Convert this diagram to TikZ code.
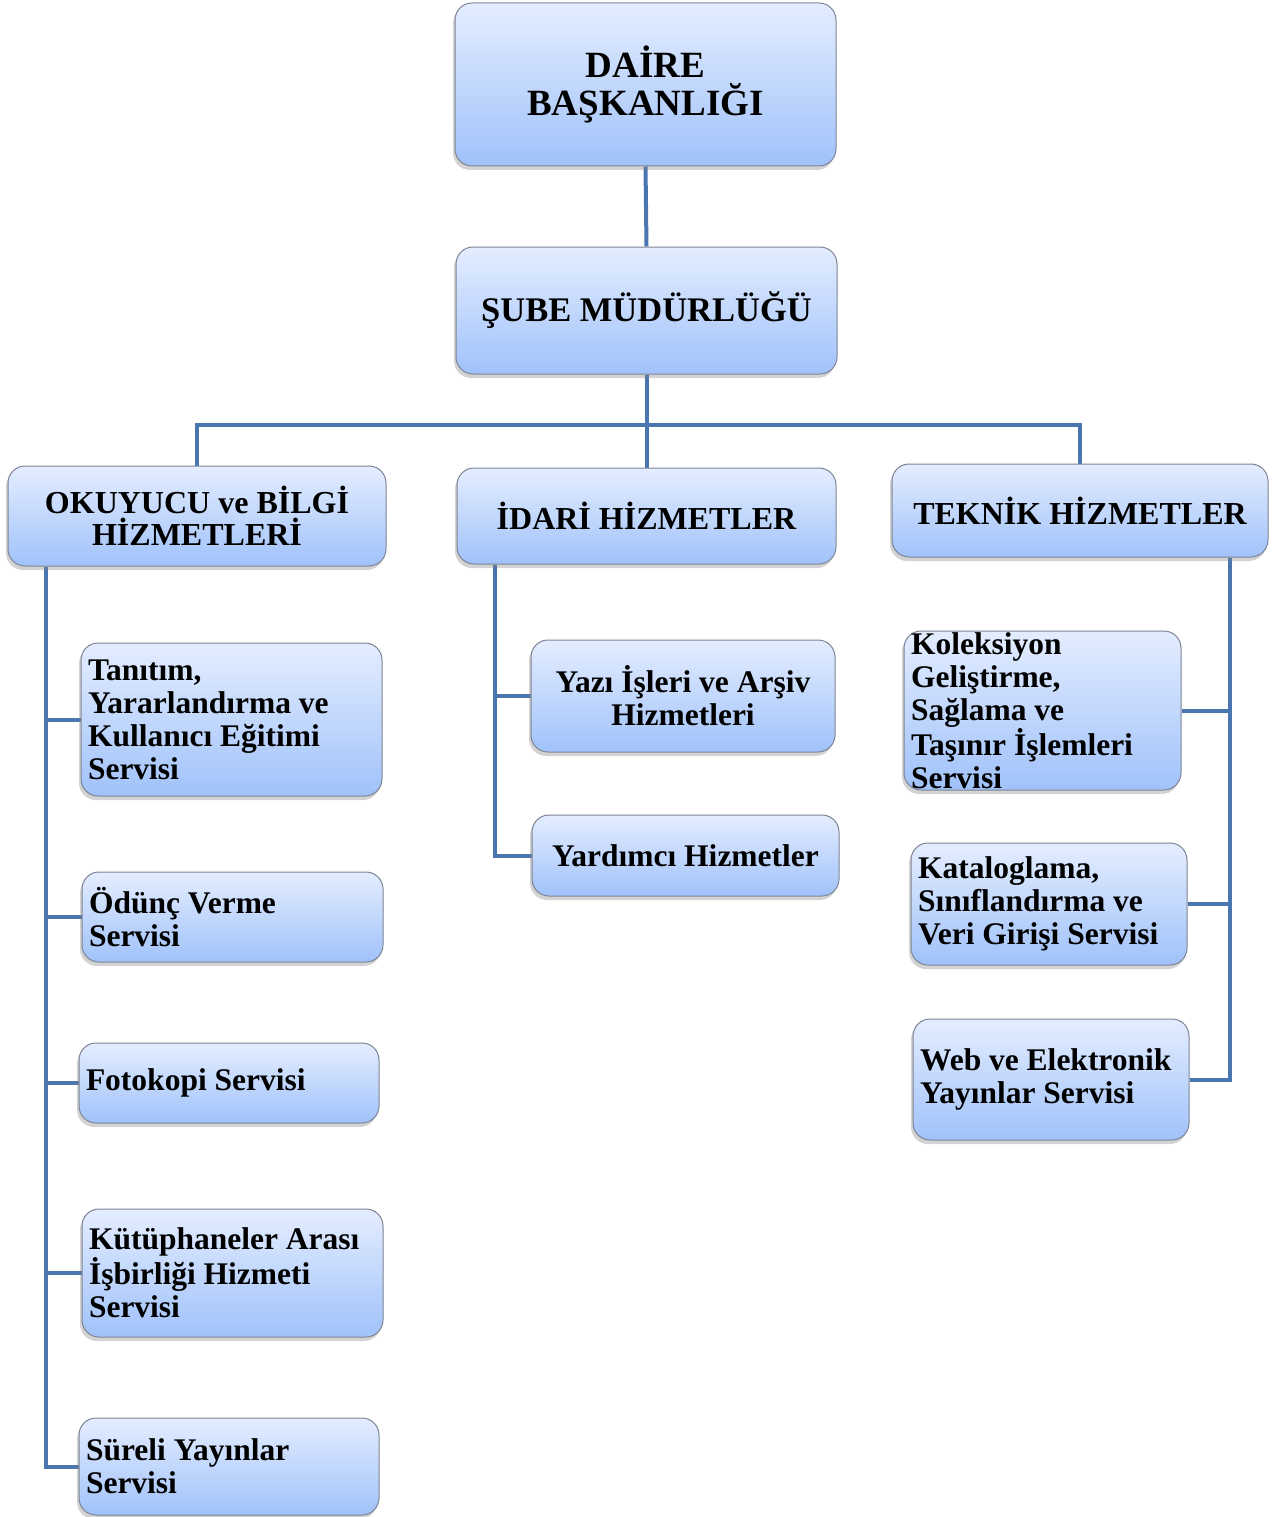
\documentclass[tikz,border=0pt]{standalone}
\usepackage{fontspec}
\setmainfont{Liberation Serif}
\usetikzlibrary{shadows,backgrounds}
\definecolor{boxtop}{RGB}{228,237,255}
\definecolor{boxbot}{RGB}{160,194,250}
\definecolor{boxborder}{RGB}{125,132,148}
\definecolor{connc}{RGB}{74,118,176}
\tikzset{
  orgbox/.style={draw=boxborder, line width=1pt, rounded corners=17pt,
    top color=boxtop, bottom color=boxbot,
    drop shadow={opacity=0.35, shadow xshift=-2pt, shadow yshift=-4pt},
    inner xsep=7pt, inner ysep=0pt, align=center,
    font=\bfseries\fontsize{31.5}{33}\selectfont},
  headbox/.style={orgbox, font=\bfseries\fontsize{32}{32}\selectfont},
  leftbox/.style={orgbox, align=flush left},
  conn/.style={draw=connc, line width=4pt},
}
\begin{document}
\begin{tikzpicture}[x=1pt,y=-1pt]
\useasboundingbox (0,0) rectangle (1273,1517);
% top
\node[orgbox, minimum width=381pt, minimum height=163pt, font=\bfseries\fontsize{37}{38}\selectfont] (daire) at (645.5,84.5) {DAİRE\\BAŞKANLIĞI};
\node[orgbox, minimum width=381pt, minimum height=127pt, font=\bfseries\fontsize{34.5}{36}\selectfont] (sube) at (646.5,310.5) {ŞUBE MÜDÜRLÜĞÜ};
% departments
\node[headbox, minimum width=378pt, minimum height=100pt] (okuyucu) at (197,516) {OKUYUCU ve BİLGİ\\HİZMETLERİ};
\node[headbox, minimum width=379pt, minimum height=96pt] (idari) at (646.5,516) {İDARİ HİZMETLER};
\node[headbox, minimum width=376pt, minimum height=93pt] (teknik) at (1080,510.5) {TEKNİK HİZMETLER};
% left column
\node[leftbox, minimum width=301pt, text width=287pt, minimum height=153pt] (tanitim) at (231.5,719.5) {Tanıtım,\\Yararlandırma ve\\Kullanıcı Eğitimi\\Servisi};
\node[leftbox, minimum width=301pt, text width=287pt, minimum height=90pt] (odunc) at (232.5,917) {Ödünç Verme\\Servisi};
\node[leftbox, minimum width=300pt, text width=286pt, minimum height=80pt] (fotokopi) at (229,1083) {Fotokopi Servisi};
\node[leftbox, minimum width=301pt, text width=287pt, minimum height=128pt] (kutup) at (232.5,1273) {Kütüphaneler Arası\\İşbirliği Hizmeti\\Servisi};
\node[leftbox, minimum width=300pt, text width=286pt, minimum height=97pt] (sureli) at (229,1466.5) {Süreli Yayınlar\\Servisi};
% middle column
\node[orgbox, minimum width=304pt, minimum height=112pt] (yazi) at (683,696) {Yazı İşleri ve Arşiv\\Hizmetleri};
\node[orgbox, minimum width=307pt, minimum height=81pt] (yardimci) at (685.5,855.5) {Yardımcı Hizmetler};
% right column
\node[orgbox, minimum width=277pt, minimum height=159pt] (koleksiyon) at (1042.5,710.5) {\parbox[c][150pt][c]{263pt}{\raggedright Koleksiyon\\Geliştirme,\\Sağlama ve\\Taşınır İşlemleri\\Servisi}};
\node[leftbox, minimum width=276pt, text width=262pt, minimum height=122pt] (katalog) at (1049,904) {Kataloglama,\\Sınıflandırma ve\\Veri Girişi Servisi};
\node[leftbox, minimum width=276pt, text width=262pt, minimum height=121pt] (web) at (1051,1079.5) {Web ve Elektronik\\Yayınlar Servisi};
% helper coordinates
\coordinate (bus) at (646,425);
\coordinate (lt) at (46,0);
\coordinate (mt) at (495,0);
\coordinate (rt) at (1230,0);
\begin{scope}[on background layer]
\draw[conn] (daire.south) -- (sube.north);
\draw[conn] (sube.south) -- (idari.north);
\draw[conn] (okuyucu.north) |- (bus) -| (teknik.north);
% left trunk
\draw[conn] (okuyucu.south -| lt) -- (lt |- sureli.west) -- (sureli.west);
\draw[conn] (lt |- tanitim.west) -- (tanitim.west);
\draw[conn] (lt |- odunc.west) -- (odunc.west);
\draw[conn] (lt |- fotokopi.west) -- (fotokopi.west);
\draw[conn] (lt |- kutup.west) -- (kutup.west);
% middle trunk
\draw[conn] (idari.south -| mt) -- (mt |- yardimci.west) -- (yardimci.west);
\draw[conn] (mt |- yazi.west) -- (yazi.west);
% right trunk
\draw[conn] (teknik.south -| rt) -- (rt |- web.east) -- (web.east);
\draw[conn] (rt |- koleksiyon.east) -- (koleksiyon.east);
\draw[conn] (rt |- katalog.east) -- (katalog.east);
\end{scope}
\end{tikzpicture}
\end{document}
